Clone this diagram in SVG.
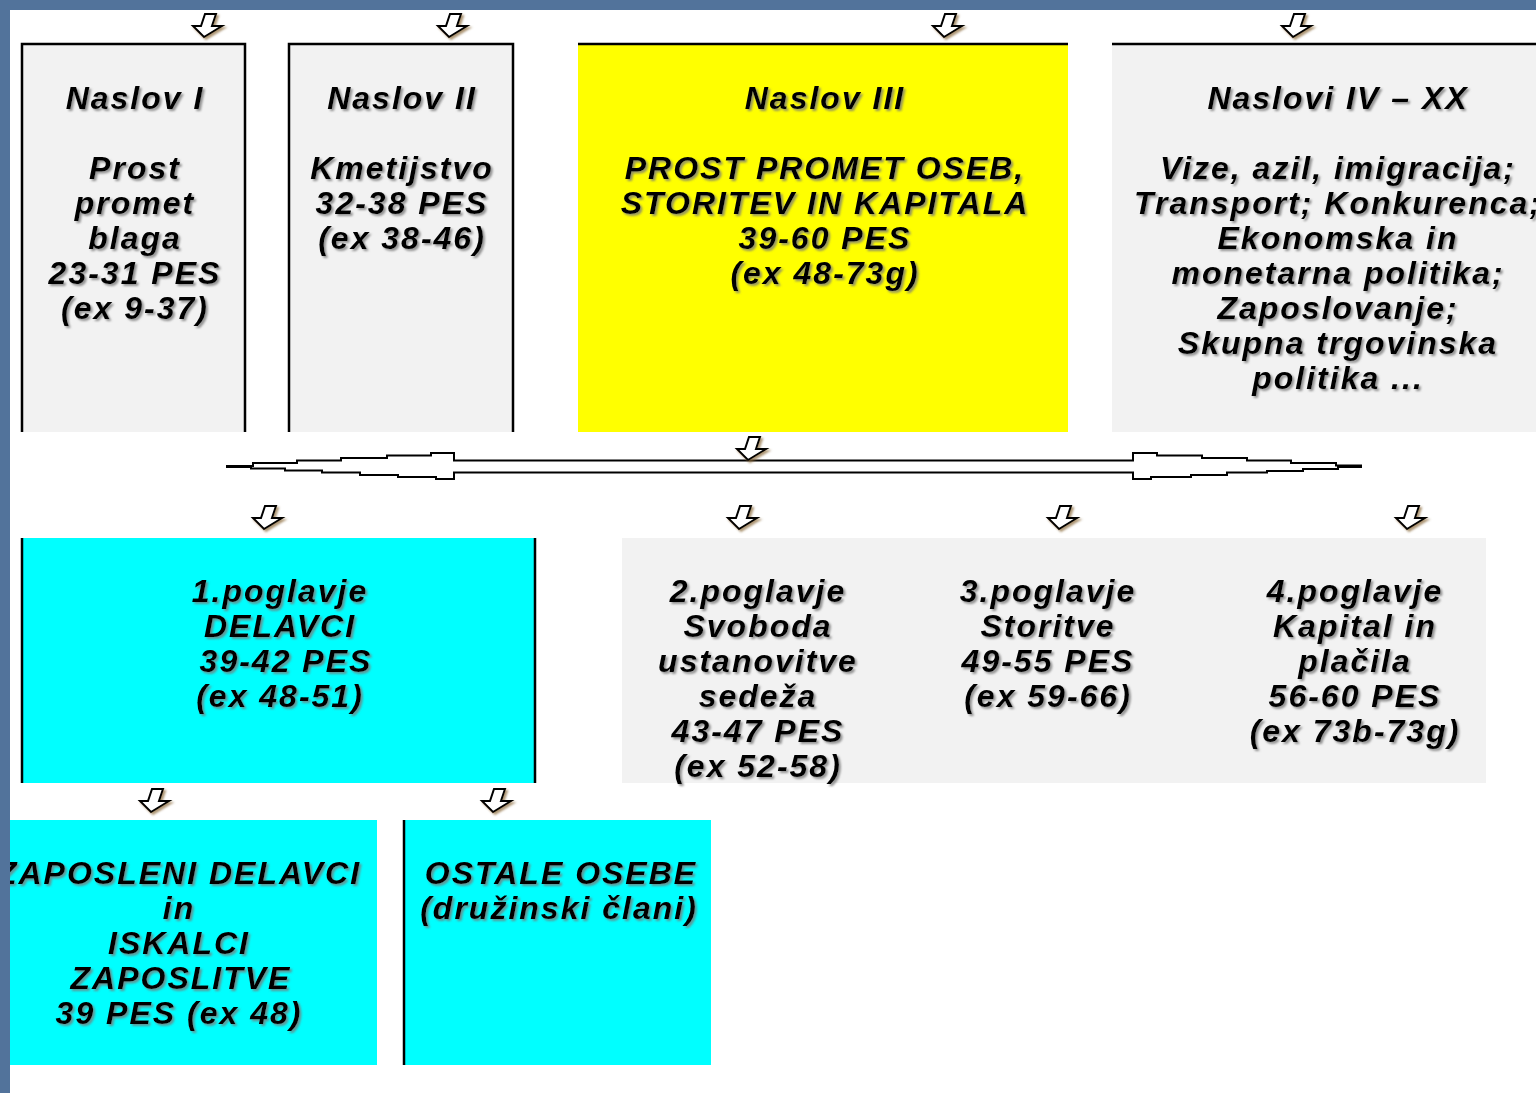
<svg xmlns="http://www.w3.org/2000/svg" width="1536" height="1093" viewBox="0 0 1536 1093">
<style>
.t{font-family:"Liberation Sans",Arial,sans-serif;font-weight:bold;font-style:italic;font-size:32px;letter-spacing:2px;text-anchor:middle;fill:#000;filter:url(#sh)}
.gray{fill:#f2f2f2}
.yel{fill:#ffff00}
.cy{fill:#00ffff}
.bd{stroke:#000;stroke-width:2.5;fill:none}
.arr{fill:#fff;stroke:#000;stroke-width:2;stroke-linejoin:miter;filter:url(#ash)}
</style>
<defs>
<filter id="sh" x="-10%" y="-30%" width="120%" height="160%">
<feDropShadow dx="2" dy="2" stdDeviation="1" flood-color="#7a7a7a" flood-opacity="0.8"/>
</filter>
<filter id="ash" x="-40%" y="-40%" width="180%" height="180%">
<feDropShadow dx="2" dy="2" stdDeviation="1.2" flood-color="#8a6a3a" flood-opacity="0.7"/>
</filter>
<path id="dn" d="M -3,-11 L 8,-11 L 4,1 L 14,1 L -4,12 L -15,1 L -7,1 Z"/>
</defs>
<rect x="0" y="0" width="1536" height="1093" fill="#fff"/>

<g id="naslov1">
<rect class="gray" x="22" y="44" width="223" height="388"/>
<path class="bd" d="M22,432 V44 H245 V432"/>
<text class="t" x="135"><tspan x="135" y="109">Naslov I</tspan><tspan x="135" y="179">Prost</tspan><tspan x="135" y="214">promet</tspan><tspan x="135" y="249">blaga</tspan><tspan x="135" y="284">23-31 PES</tspan><tspan x="135" y="319">(ex 9-37)</tspan></text>
</g>
<g id="naslov2">
<rect class="gray" x="289" y="44" width="224" height="388"/>
<path class="bd" d="M289,432 V44 H513 V432"/>
<text class="t"><tspan x="402" y="109">Naslov II</tspan><tspan x="402" y="179">Kmetijstvo</tspan><tspan x="402" y="214">32-38 PES</tspan><tspan x="402" y="249">(ex 38-46)</tspan></text>
</g>
<g id="naslov3">
<rect class="yel" x="578" y="44" width="490" height="388"/>
<path class="bd" d="M578,44 H1068"/>
<text class="t"><tspan x="825" y="109">Naslov III</tspan><tspan x="825" y="179">PROST PROMET OSEB,</tspan><tspan x="825" y="214">STORITEV IN KAPITALA</tspan><tspan x="825" y="249">39-60 PES</tspan><tspan x="825" y="284">(ex 48-73g)</tspan></text>
</g>
<g id="naslovi4">
<rect class="gray" x="1112" y="44" width="430" height="388"/>
<path class="bd" d="M1112,44 H1536"/>
<text class="t"><tspan x="1338" y="109">Naslovi  IV – XX</tspan><tspan x="1338" y="179">Vize, azil, imigracija;</tspan><tspan x="1338" y="214">Transport; Konkurenca;</tspan><tspan x="1338" y="249">Ekonomska in</tspan><tspan x="1338" y="284">monetarna politika;</tspan><tspan x="1338" y="319">Zaposlovanje;</tspan><tspan x="1338" y="354">Skupna trgovinska</tspan><tspan x="1338" y="389">politika ...</tspan></text>
</g>

<g id="pogl1">
<rect class="cy" x="22" y="538" width="513" height="245"/>
<path class="bd" d="M22,538 V783 M535,538 V783"/>
<text class="t"><tspan x="280" y="602">1.poglavje</tspan><tspan x="280" y="637">DELAVCI</tspan><tspan x="286" y="672">39-42 PES</tspan><tspan x="280" y="707">(ex 48-51)</tspan></text>
</g>
<g id="pogl234">
<rect class="gray" x="622" y="538" width="864" height="245"/>
<text class="t"><tspan x="758" y="602">2.poglavje</tspan><tspan x="758" y="637">Svoboda</tspan><tspan x="758" y="672">ustanovitve</tspan><tspan x="758" y="707">sedeža</tspan><tspan x="758" y="742">43-47 PES</tspan><tspan x="758" y="777">(ex 52-58)</tspan></text>
<text class="t"><tspan x="1048" y="602">3.poglavje</tspan><tspan x="1048" y="637">Storitve</tspan><tspan x="1048" y="672">49-55 PES</tspan><tspan x="1048" y="707">(ex 59-66)</tspan></text>
<text class="t"><tspan x="1355" y="602">4.poglavje</tspan><tspan x="1355" y="637">Kapital in</tspan><tspan x="1355" y="672">plačila</tspan><tspan x="1355" y="707">56-60 PES</tspan><tspan x="1355" y="742">(ex 73b-73g)</tspan></text>
</g>
<g id="zaposleni">
<rect class="cy" x="10" y="820" width="367" height="245"/>
<text class="t"><tspan x="179" y="884">ZAPOSLENI DELAVCI</tspan><tspan x="179" y="919">in</tspan><tspan x="179" y="954">ISKALCI</tspan><tspan x="181" y="989">ZAPOSLITVE</tspan><tspan x="179" y="1024">39 PES (ex 48)</tspan></text>
</g>
<g id="ostale">
<rect class="cy" x="403" y="820" width="308" height="245"/>
<path class="bd" d="M404,820 V1065"/>
<text class="t"><tspan x="561" y="884">OSTALE OSEBE</tspan><tspan x="559" y="919">(družinski člani)</tspan></text>
</g>

<g id="connectors">
<path d="M227,466 H253 V463 H297 V460.5 H341 V458 H387 V455.5 H431 V453 H454 V460.5 H1133 V453 H1157 V455.5 H1202 V458 H1247 V460.5 H1291 V463 H1336 V465.5 H1361 V467 H1338 V469 H1303 V471 H1267 V472.5 H1227 V475 H1191 V477 H1151 V479 H1133 V472.5 H454 V479 H436 V477 H398 V475 H360 V472.5 H322 V470.5 H285 V468.5 H251 V467 H227 Z" fill="#fff" stroke="#000" stroke-width="2"/>
<use href="#dn" class="arr" x="208" y="25"/>
<use href="#dn" class="arr" x="453" y="25"/>
<use href="#dn" class="arr" x="948" y="25"/>
<use href="#dn" class="arr" x="1297" y="25"/>
<use href="#dn" class="arr" x="752" y="448"/>
<use href="#dn" class="arr" x="268" y="517"/>
<use href="#dn" class="arr" x="743" y="517"/>
<use href="#dn" class="arr" x="1063" y="517"/>
<use href="#dn" class="arr" x="1411" y="517"/>
<use href="#dn" class="arr" x="155" y="800"/>
<use href="#dn" class="arr" x="497" y="800"/>
</g>

<g id="frame">
<rect x="0" y="0" width="1536" height="10" fill="#52739b"/>
<rect x="0" y="0" width="10" height="1093" fill="#52739b"/>
</g>
</svg>
